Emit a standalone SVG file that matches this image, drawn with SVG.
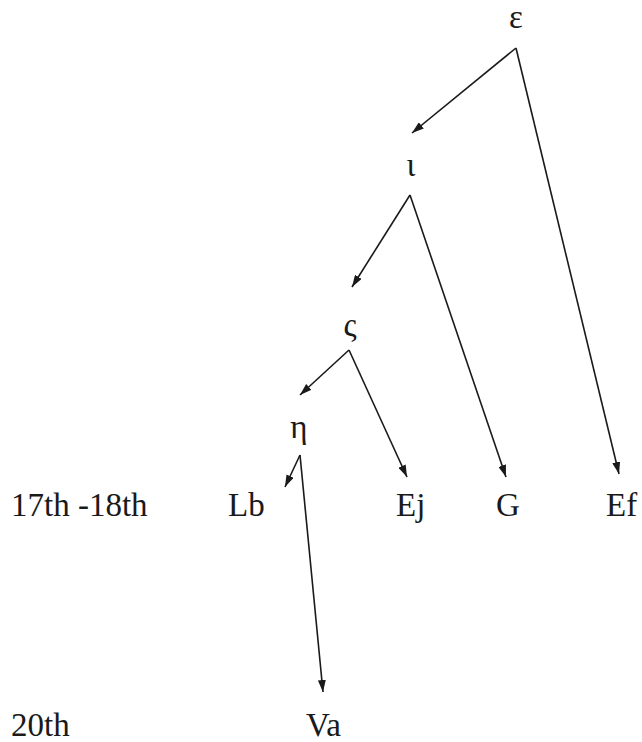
<svg xmlns="http://www.w3.org/2000/svg" width="642" height="742" viewBox="0 0 642 742">
<style>
.t{font-family:'Liberation Serif','DejaVu Serif','Noto Serif',serif;font-size:33px;fill:#1a1a1a}
.c line{stroke:#1a1a1a;stroke-width:1.6;marker-end:url(#ah)}
</style>
<defs>
<marker id="ah" viewBox="0 0 12 8" refX="12" refY="4" markerWidth="12" markerHeight="8" markerUnits="userSpaceOnUse" orient="auto">
<path d="M0,0 L12,4 L0,8 Z" fill="#1a1a1a"/>
</marker>
</defs>
<rect width="642" height="742" fill="#fff"/>
<g class="t">
<g id="n-epsilon"><text x="516" y="28" text-anchor="middle">ε</text></g>
<g id="n-iota"><text x="411" y="176" text-anchor="middle">ι</text></g>
<g id="n-sigma"><text x="350" y="336" text-anchor="middle">ς</text></g>
<g id="n-eta"><text x="299" y="438" text-anchor="middle">η</text></g>
<g id="n-Lb"><text x="228" y="516">Lb</text></g>
<g id="n-Ej"><text x="396" y="516">Ej</text></g>
<g id="n-G"><text x="496" y="516">G</text></g>
<g id="n-Ef"><text x="606" y="516">Ef</text></g>
<g id="n-Va"><text x="306" y="736">Va</text></g>
<g id="lbl-17"><text x="11" y="516">17th -18th</text></g>
<g id="lbl-20"><text x="11" y="736">20th</text></g>
</g>
<g class="c" id="connectors">
<line x1="516" y1="48" x2="412" y2="133"/>
<line x1="516" y1="48" x2="619" y2="474"/>
<line x1="410" y1="195" x2="352" y2="287"/>
<line x1="410" y1="195" x2="506" y2="477"/>
<line x1="349" y1="350" x2="300" y2="395"/>
<line x1="349" y1="350" x2="407" y2="477"/>
<line x1="300" y1="455" x2="285" y2="487"/>
<line x1="300" y1="455" x2="323" y2="692"/>
</g>
</svg>
